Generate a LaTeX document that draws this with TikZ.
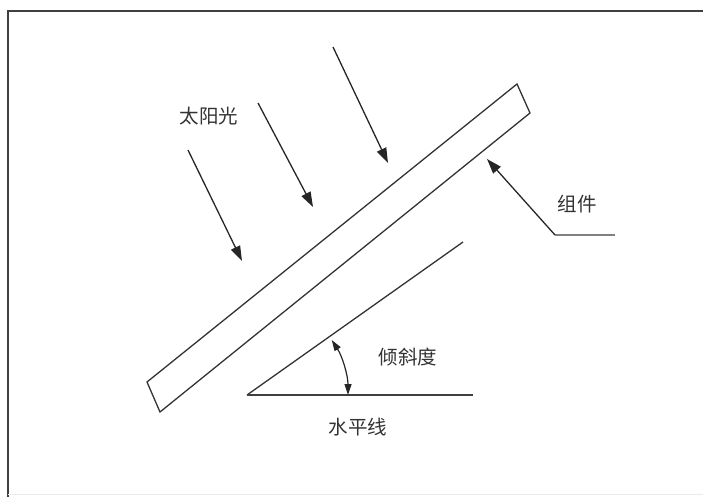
\documentclass[tikz,border=0pt]{standalone}
\usepackage{fontspec}
\newfontfamily\cjk{Noto Sans CJK SC}
\usetikzlibrary{arrows.meta}
\begin{document}
\begin{tikzpicture}[x=1pt,y=-1pt,
  lbl/.style={font=\cjk\fontsize{19.5}{21}\selectfont, text=black!80, inner sep=0pt},
  ray/.style={draw=black!85, line width=1.3pt, -{Triangle[length=15pt,width=10pt]}},
  edge/.style={draw=black!80, line width=1.3pt},
  angarr/.style={draw=black!85, line width=1.2pt, {Triangle[length=11pt,width=7pt]}-{Triangle[length=11pt,width=7pt]}}]
\useasboundingbox (0,0) rectangle (703,497);
% frame
\draw[black!75, line width=2pt] (8,497) -- (8,11) -- (703,11);
\draw[black!8, line width=1pt] (8,494) -- (703,494);
% panel
\coordinate (p1) at (147,382);
\coordinate (p2) at (517,84);
\coordinate (p3) at (530,113);
\coordinate (p4) at (160,412);
\draw[edge] (p1) -- (p2) -- (p3) -- (p4) -- cycle;
% incline and horizontal
\coordinate (o) at (247,395);
\coordinate (inc) at (463,242);
\coordinate (hor) at (473,395);
\draw[edge] (o) -- (inc);
\draw[black!75, line width=2.2pt] (o) -- (hor);
% angle arc
\draw[angarr] ([shift={(0:101)}]o) arc[start angle=0, end angle=-33, radius=101];
% sun rays
\coordinate (s1a) at (188,150); \coordinate (s1b) at (242,261);
\coordinate (s2a) at (258,103); \coordinate (s2b) at (313,207);
\coordinate (s3a) at (333,47);  \coordinate (s3b) at (388,163);
\draw[ray] (s1a) -- (s1b);
\draw[ray] (s2a) -- (s2b);
\draw[ray] (s3a) -- (s3b);
% component leader
\coordinate (ctip) at (487,159);
\coordinate (cbend) at (555,235);
\coordinate (cend) at (615,235);
\draw[black!50, line width=1.6pt] (cbend) -- (cend);
\draw[ray] (cbend) -- (ctip);
% labels
\node[lbl] (sun) at (209,116) {太阳光};
\node[lbl] (comp) at (577,204) {组件};
\node[lbl] (tilt) at (408,357) {倾斜度};
\node[lbl] (horiz) at (358,427) {水平线};
\end{tikzpicture}
\end{document}
